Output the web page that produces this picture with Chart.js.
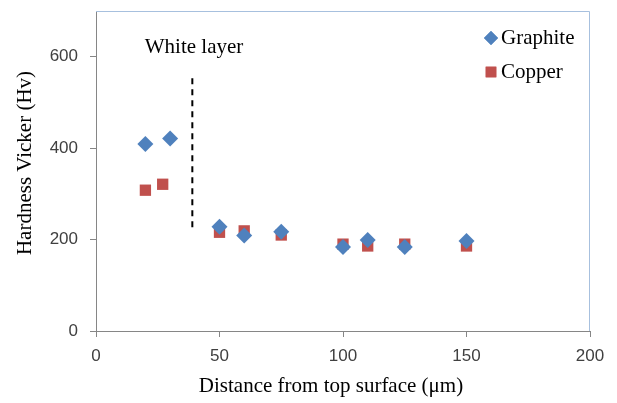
<!DOCTYPE html>
<html>
<head>
<meta charset="utf-8">
<script src="https://cdn.jsdelivr.net/npm/chart.js@4"></script>
<style>
  html, body { margin: 0; padding: 0; background: #fff; }
</style>
</head>
<body>
<canvas id="hardChart" width="617" height="403"></canvas>
<script>
// data
const graphiteX = [20, 30, 50, 60, 75, 100, 110, 125, 150];
const graphiteY = [409, 421, 228, 209, 217, 184, 199, 184, 197];
const copperX = [20, 27, 50, 60, 75, 100, 110, 125, 150];
const copperY = [308, 321, 216, 219, 210, 190, 186, 190, 186];
// white layer boundary (dashed)
const layerX = [39, 39];
const layerY = [227, 555];
const layerLabel = 'White layer';
const yTicks = [0, 200, 400, 600];
const xTicks = [0, 50, 100, 150, 200];
const xTitle = 'Distance from top surface (μm)';
const yTitle = 'Hardness Vicker (Hv)';

const toPoints = (xs, ys) => xs.map((x, i) => ({ x: x, y: ys[i] }));

const serif = '"Liberation Serif", "Times New Roman", serif';
const sans = '"Liberation Sans", Arial, sans-serif';

// frame, titles, legend, label
const extras = {
    id: 'extras',
    beforeDatasetsDraw(chart) {
        const { ctx, chartArea: a } = chart;
        ctx.save();
        ctx.strokeStyle = '#a7c0de';
        ctx.lineWidth = 1;
        ctx.beginPath();
        ctx.moveTo(a.left, a.top + 0.5);
        ctx.lineTo(a.right - 0.5, a.top + 0.5);
        ctx.lineTo(a.right - 0.5, a.bottom);
        ctx.stroke();
        ctx.restore();
    },
    afterDatasetsDraw(chart) {
        const { ctx, scales } = chart;
        ctx.save();
        ctx.fillStyle = '#000';
        ctx.font = '21px ' + serif;
        ctx.textAlign = 'center';
        ctx.textBaseline = 'middle';
        ctx.fillText(layerLabel, scales.x.getPixelForValue(39.7), scales.y.getPixelForValue(621));

        // axis titles
        ctx.fillText(xTitle, 331, 386);
        ctx.save();
        ctx.translate(25, 163);
        ctx.rotate(-Math.PI / 2);
        ctx.fillText(yTitle, 0, 0);
        ctx.restore();

        // legend
        let ly = 38;
        chart.data.datasets.forEach((ds) => {
            if (ds.type === 'line') return;
            ctx.fillStyle = ds.backgroundColor;
            Chart.helpers.drawPoint(ctx, {
                pointStyle: ds.pointStyle,
                radius: ds.pointStyle === 'rect' ? 7.5 : 7,
                borderWidth: 0
            }, 491, ly);
            ctx.fill();
            ctx.fillStyle = '#000';
            ctx.font = '21px ' + serif;
            ctx.textAlign = 'left';
            ctx.fillText(ds.label, 501, ly);
            ly += 34;
        });
        ctx.restore();
    }
};

function renderChart() {
    const ctx = document.getElementById('hardChart').getContext('2d');
    new Chart(ctx, {
        type: 'scatter',
        data: {
            datasets: [{
                label: 'Graphite',
                data: toPoints(graphiteX, graphiteY),
                pointStyle: 'rectRot',
                pointRadius: 8,
                backgroundColor: '#4f81bd',
                borderColor: '#4f81bd',
                borderWidth: 0
            }, {
                label: 'Copper',
                data: toPoints(copperX, copperY),
                pointStyle: 'rect',
                pointRadius: 8,
                backgroundColor: '#c0504d',
                borderColor: '#c0504d',
                borderWidth: 0
            }, {
                type: 'line',
                label: 'layer',
                data: toPoints(layerX, layerY),
                borderColor: '#000',
                borderWidth: 2,
                borderDash: [6, 5],
                pointRadius: 0,
                fill: false
            }]
        },
        options: {
            responsive: false,
            animation: false,
            layout: { padding: { top: 11, right: 27, left: 0, bottom: 0 } },
            plugins: {
                legend: { display: false },
                tooltip: { enabled: false }
            },
            scales: {
                x: {
                    type: 'linear',
                    min: 0,
                    max: 200,
                    afterFit: (s) => { s.height = 72; s.paddingLeft = 0; s.paddingRight = 0; },
                    afterBuildTicks: (s) => { s.ticks = xTicks.map(v => ({ value: v })); },
                    grid: { drawOnChartArea: false, tickLength: 6, color: '#868686' },
                    border: { color: '#868686' },
                    ticks: { font: { family: sans, size: 17 }, color: '#404040', padding: 9 }
                },
                y: {
                    min: 0,
                    max: 700,
                    afterFit: (s) => { s.width = 96; s.paddingTop = 0; s.paddingBottom = 0; },
                    afterBuildTicks: (s) => { s.ticks = yTicks.map(v => ({ value: v })); },
                    grid: { drawOnChartArea: false, tickLength: 6, color: '#868686' },
                    border: { color: '#868686' },
                    ticks: { font: { family: sans, size: 17 }, color: '#404040', padding: 12 }
                }
            }
        },
        plugins: [extras]
    });
}

renderChart();
</script>
</body>
</html>
